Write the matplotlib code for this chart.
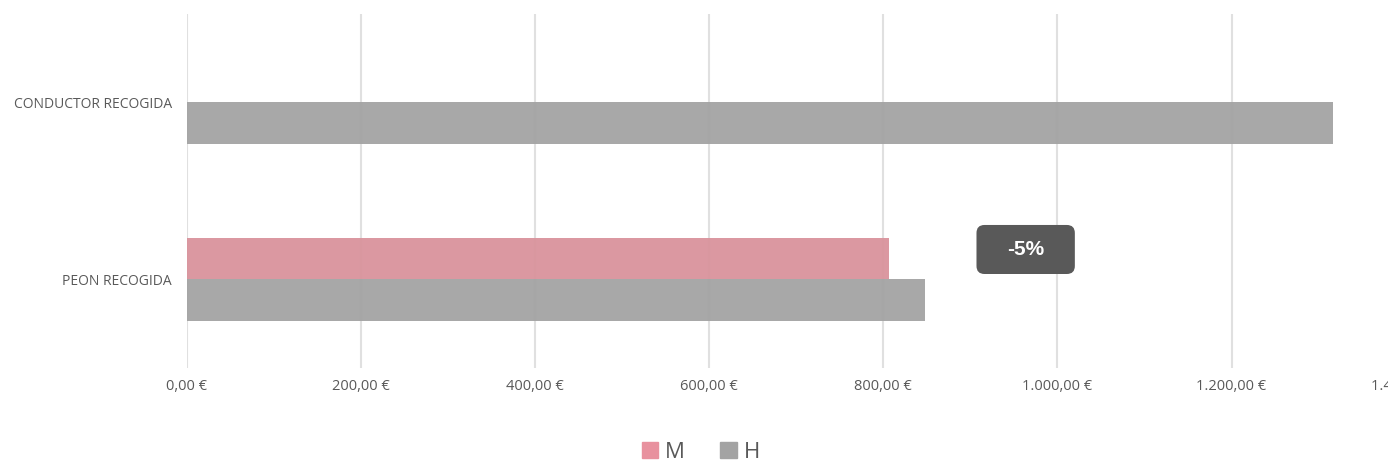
import matplotlib.pyplot as plt
from matplotlib.patches import Patch, FancyBboxPatch
from matplotlib.ticker import FuncFormatter

plt.rcParams['font.family'] = ['Open Sans', 'DejaVu Sans']

categorias = ['PEON RECOGIDA', 'CONDUCTOR RECOGIDA']
salario_m = [807, 0]
salario_h = [848, 1317]
diferencia = '-5%'

color_m = '#d9939c'
color_h = '#a3a3a3'

fig = plt.figure(figsize=(13.88, 4.65), dpi=100)
ax = fig.add_axes([0.1347, 0.2086, 0.878, 0.7614])

h = 0.237
y = list(range(len(categorias)))
ax.barh([v + h / 2 for v in y], salario_m, height=h, color=color_m, alpha=0.95, zorder=3)
ax.barh([v - h / 2 for v in y], salario_h, height=h, color=color_h, alpha=0.95, zorder=3)

ax.set_xlim(0, 1400)
ax.set_ylim(-0.5, 1.5)
ax.set_xticks(range(0, 1401, 200))

def euros(x, pos):
    s = f'{x:,.2f}'.replace(',', 'X').replace('.', ',').replace('X', '.')
    return s + ' €'

ax.xaxis.set_major_formatter(FuncFormatter(euros))
ax.set_yticks(y)
ax.set_yticklabels(categorias)
ax.tick_params(axis='both', length=0, labelcolor='#595959')
ax.tick_params(axis='x', pad=8, labelsize=10.5)
ax.tick_params(axis='y', pad=11, labelsize=10)
ax.grid(axis='x', color='#e0e0e0', linewidth=1.5, zorder=0)
for s in ax.spines.values():
    s.set_visible(False)

# etiqueta con la diferencia M/H (caja redondeada en coordenadas de datos)
px_x = 1400 / (0.878 * 1388)
px_y = 2.0 / (0.7614 * 465)
caja = FancyBboxPatch((907, 0.031), 113, 0.277,
                      boxstyle=f'round,pad=0,rounding_size={8 * px_x}',
                      mutation_aspect=px_y / px_x,
                      fc='#595959', ec='none', zorder=5)
ax.add_patch(caja)
ax.text(963.5, 0.1695, diferencia, ha='center', va='center', color='white',
        fontsize=15, fontweight='bold', family=['Liberation Sans'], zorder=6)

handles = [Patch(color='#e8919e', label='M'), Patch(color=color_h, label='H')]
fig.legend(handles=handles, loc='lower center', bbox_to_anchor=(0.505, -0.038), ncol=2,
           frameon=False, fontsize=16, handlelength=0.75, handleheight=0.75,
           handletextpad=0.3, columnspacing=1.6, labelcolor='#595959')

fig.savefig('out.png', dpi=100)
